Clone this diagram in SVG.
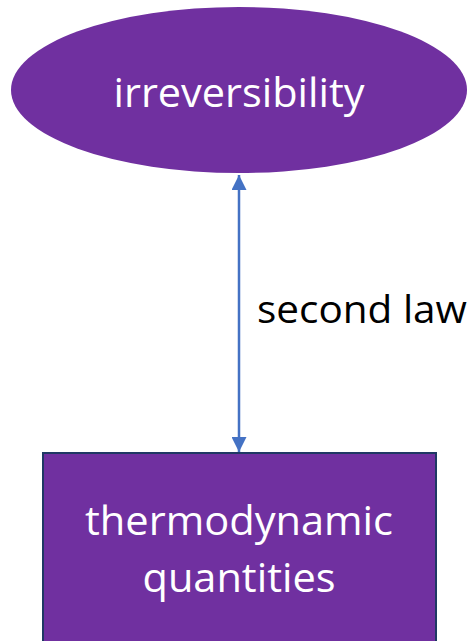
<svg xmlns="http://www.w3.org/2000/svg" width="476" height="641" viewBox="0 0 476 641">
<style>
.node{fill:#7030A0;}
.lbl{font-family:"Open Sans","Noto Sans",sans-serif;fill:#FFFFFF;text-anchor:middle;}
.edge{stroke:#4472C4;stroke-width:2.5;fill:none;}
.elbl{font-family:"Open Sans","Noto Sans",sans-serif;fill:#000000;}
</style>
<defs>
<marker id="ah" viewBox="0 0 10 10" refX="10" refY="5" markerWidth="15" markerHeight="15" markerUnits="userSpaceOnUse" orient="auto-start-reverse">
<path d="M0,0 L10,5 L0,10 Z" fill="#4472C4"/>
</marker>
</defs>
<g id="connectors">
<line class="edge" x1="239" y1="175" x2="239" y2="452" marker-start="url(#ah)" marker-end="url(#ah)"/>
<text class="elbl" x="257" y="323" font-size="38" textLength="210" lengthAdjust="spacingAndGlyphs">second law</text>
</g>
<g id="irreversibility">
<ellipse class="node" cx="239" cy="90" rx="228" ry="83"/>
<text class="lbl" x="239" y="107" font-size="40" textLength="251" lengthAdjust="spacingAndGlyphs">irreversibility</text>
</g>
<g id="thermodynamic-quantities">
<rect class="node" x="43" y="453" width="393" height="200" stroke="#1F3864" stroke-width="2"/>
<text class="lbl" x="239" y="535" font-size="40" textLength="308" lengthAdjust="spacingAndGlyphs">thermodynamic</text>
<text class="lbl" x="239" y="592" font-size="40" textLength="193" lengthAdjust="spacingAndGlyphs">quantities</text>
</g>
</svg>
